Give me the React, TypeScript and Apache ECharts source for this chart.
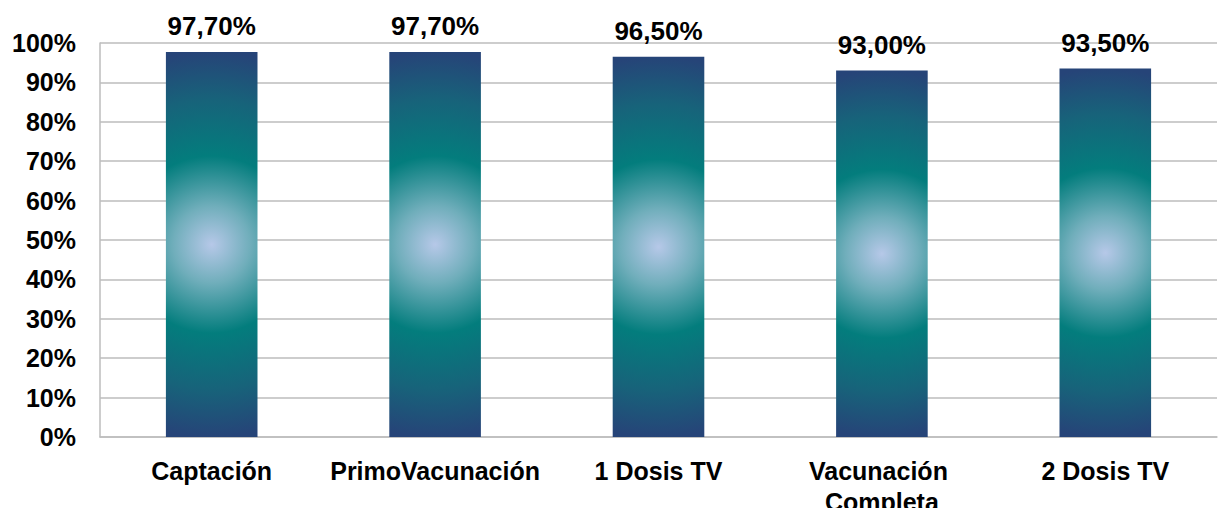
import React, { useEffect, useRef } from "react";
import * as echarts from "echarts";

const categories = ["Captación", "PrimoVacunación", "1 Dosis TV", "Vacunación Completa", "2 Dosis TV"];
const values = [97.7, 97.7, 96.5, 93.0, 93.5];
const yTicks = { min: 0, max: 100, interval: 10 };

const FONT = "Arial, 'Liberation Sans', sans-serif";

export default function App() {
  const ref = useRef<HTMLDivElement>(null);
  useEffect(() => {
    document.body.style.margin = "0";
    const chart = echarts.init(ref.current!, null, { renderer: "svg" });
    chart.setOption({
      animation: false,
      backgroundColor: "#ffffff",
      grid: {
        left: 100,
        right: 2,
        top: 43,
        bottom: 71,
        containLabel: false,
        outerBoundsMode: "none",
      },
      xAxis: {
        type: "category",
        data: categories,
        axisLine: { show: true, lineStyle: { color: "#bdbdbd", width: 1.5 } },
        axisTick: { show: false },
        axisLabel: {
          interval: 0,
          margin: 18,
          color: "#000",
          fontFamily: FONT,
          fontWeight: "bold",
          fontSize: 25,
          lineHeight: 31,
          width: 250,
          overflow: "break",
          hideOverlap: false,
        },
      },
      yAxis: {
        type: "value",
        min: yTicks.min,
        max: yTicks.max,
        interval: yTicks.interval,
        axisLine: { show: true, lineStyle: { color: "#bdbdbd", width: 1.5 } },
        axisTick: { show: false },
        splitLine: { show: true, lineStyle: { color: "#bdbdbd", width: 1.5 } },
        axisLabel: {
          formatter: "{value}%",
          margin: 24,
          color: "#000",
          fontFamily: FONT,
          fontWeight: "bold",
          fontSize: 25,
        },
      },
      series: [
        {
          type: "bar",
          data: values,
          barWidth: "41%",
          itemStyle: { color: "rgba(0,0,0,0)" },
          label: {
            show: true,
            position: "top",
            distance: 13,
            color: "#000",
            fontFamily: FONT,
            fontWeight: "bold",
            fontSize: 26,
            formatter: (p: any) => p.value.toFixed(2).replace(".", ",") + "%",
          },
          z: 3,
        },
        {
          type: "custom",
          data: values.map((v, i) => [i, v]),
          z: 2,
          renderItem: (params: any, api: any) => {
            const xi = api.value(0);
            const v = api.value(1);
            const top = api.coord([xi, v]);
            const bottom = api.coord([xi, 0]);
            const bw = api.size([1, 0])[0] * 0.41;
            const h = bottom[1] - top[1];
            const cx = top[0];
            const cy = top[1] + h / 2;
            const r = h / 2;
            return {
              type: "rect",
              shape: { x: cx - bw / 2, y: top[1], width: bw, height: h },
              style: {
                fill: new echarts.graphic.RadialGradient(
                  cx,
                  cy,
                  r,
                  [
                    { offset: 0, color: "#b6c8e8" },
                    { offset: 0.2, color: "#70aebb" },
                    { offset: 0.46, color: "#037d7d" },
                    { offset: 0.75, color: "#17637a" },
                    { offset: 1, color: "#264478" },
                  ],
                  true
                ),
              },
            };
          },
        },
      ],
    });
    return () => chart.dispose();
  }, []);
  return (
    <div
      ref={ref}
      style={{ position: "absolute", left: 0, top: 0, width: 1219, height: 508 }}
    />
  );
}
